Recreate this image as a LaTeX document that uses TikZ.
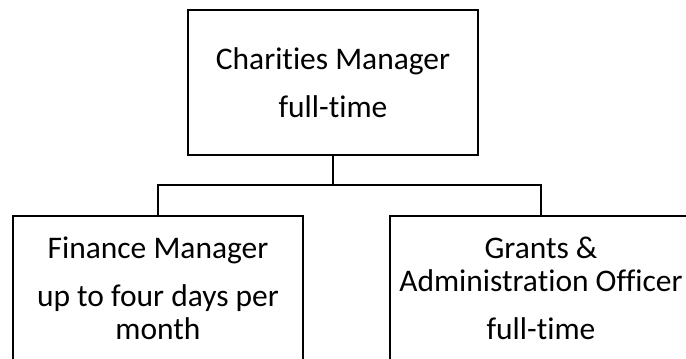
\documentclass[tikz,border=0pt]{standalone}
\usepackage{fontspec}
\setmainfont{Carlito}[Ligatures=NoCommon]
\usepackage{tikz}

\begin{document}
\begin{tikzpicture}[x=0.75pt, y=-0.75pt,
		post/.style={draw, line width=2pt, inner sep=0pt, align=center,
			minimum width=290*0.75pt, minimum height=145*0.75pt,
			font=\fontsize{23.6}{24.75}\selectfont},
		link/.style={line width=2pt}]
		\useasboundingbox (0, 0) rectangle (686, 358);
		\clip (0, 0) rectangle (686, 358);
		\node[post] (Manager) at (333, 82.5) {Charities Manager\\[11.25pt]full-time};
		\node[post] (Finance) at (158, 288.5) {Finance Manager\\[11.25pt]up to four days per\\month};
		\node[post, minimum width=302*0.75pt] (Grants) at (541, 288.5) {Grants \&\\Administration Officer\\[11.25pt]full-time};
		\coordinate (Split) at (333, 185);
		\draw[link] (Manager.south) -- (Split);
		\draw[link] (Split) -| (Finance.north);
		\draw[link] (Split) -| (Grants.north);
	\end{tikzpicture}
\end{document}
